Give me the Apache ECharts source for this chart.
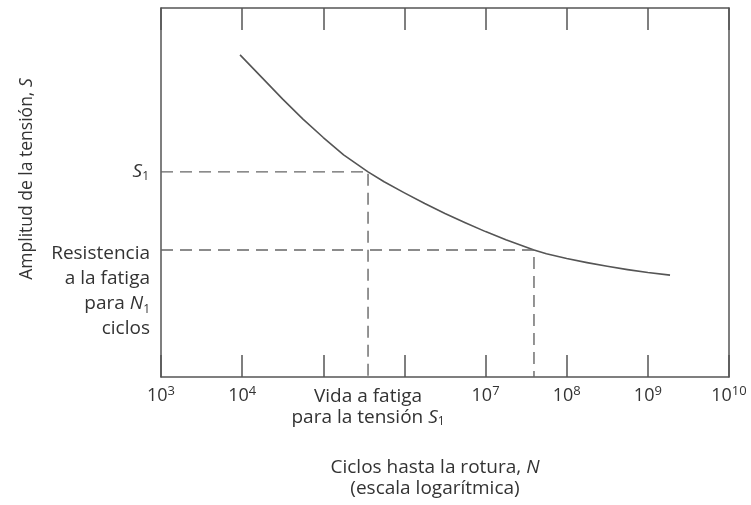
<!DOCTYPE html>
<html><head><meta charset="utf-8">
<script src="https://cdn.jsdelivr.net/npm/echarts@6/dist/echarts.min.js"></script>
<style>html,body{margin:0;padding:0;background:#fff}#c{width:751px;height:505px}</style>
</head><body><div id="c"></div>
<script>
// S-N curve (amplitude of stress vs cycles to failure, log scale)
const curveN = [9420, 17800, 31600, 56200, 1.0e5, 1.78e5, 3.56e5, 5.62e5, 1.0e6, 1.78e6, 3.16e6, 5.62e6,
  1.0e7, 1.78e7, 3.95e7, 5.62e7, 1.0e8, 1.78e8, 3.16e8, 5.62e8, 1.0e9, 1.875e9];
const curveS = [87.3, 81.0, 75.3, 69.9, 64.9, 60.2, 55.6, 52.9, 49.9, 47.0, 44.3, 41.8,
  39.4, 37.2, 34.4, 33.4, 32.1, 31.0, 30.0, 29.1, 28.3, 27.6];
const s1Level = 55.6;
const s1Life = 3.56e5;
const enduranceLevel = 34.4;
const enduranceLife = 3.95e7;
const xMin = 1e3;
const xMax = 1e10;
const xTickExponents = [3, 4, 7, 8, 9, 10];
const yTitle = ['Amplitud de la tensión, ', 'S'];
const xTitle = ['Ciclos hasta la rotura, ', 'N', '(escala logarítmica)'];
const s1Text = ['S', '1'];
const lifeText = ['Vida a fatiga', 'para la tensión ', 'S', '1'];
const enduranceText = ['Resistencia', 'a la fatiga', 'para ', 'N', '1', 'ciclos'];

const F = "'Open Sans', sans-serif";
const TXT = '#333';
const LINE = '#555';
const FS = 19;
const rich = {
  a: { fontSize: FS, color: TXT, fontFamily: F, lineHeight: 21 },
  i: { fontSize: FS, color: TXT, fontFamily: F, fontStyle: 'italic', lineHeight: 21 },
  sub: { fontSize: 12, color: TXT, fontFamily: F, verticalAlign: 'bottom', lineHeight: 12 },
  sup: { fontSize: 13, color: TXT, fontFamily: F, verticalAlign: 'top', lineHeight: 12 },
  b: { fontSize: 18, color: TXT, fontFamily: F, lineHeight: 21 }
};
const richL = {
  a: Object.assign({}, rich.a, { lineHeight: 25 }),
  i: Object.assign({}, rich.i, { lineHeight: 25 }),
  sub: Object.assign({}, rich.sub, { lineHeight: 16 })
};

const chart = echarts.init(document.getElementById('c'), null, { renderer: 'canvas' });
const axisBase = {
  type: 'log', logBase: 10, min: xMin, max: xMax, splitNumber: 7, interval: 1,
  axisLine: { show: true, onZero: false, lineStyle: { color: LINE, width: 1.5 } },
  axisTick: { show: true, inside: true, length: 22, lineStyle: { color: LINE, width: 1.5 } },
  splitLine: { show: false },
  minorTick: { show: false }
};
chart.setOption({
  animation: false,
  backgroundColor: '#fff',
  grid: { left: 161, right: 22, top: 8, bottom: 128 },
  xAxis: [
    Object.assign({}, axisBase, {
      position: 'bottom',
      axisLabel: {
        show: true, margin: 8, rich: rich,
        formatter: function (v) {
          const e = Math.round(Math.log10(v));
          return xTickExponents.indexOf(e) >= 0 ? '{b|10}{sup|' + e + '}' : '';
        }
      },
      name: '{a|' + xTitle[0] + '}{i|' + xTitle[1] + '}\n{a|' + xTitle[2] + '}',
      nameLocation: 'middle', nameGap: 80,
      nameTextStyle: { rich: rich, padding: [0, 20, 0, 0] }
    }),
    Object.assign({}, axisBase, { position: 'top', axisLabel: { show: false } })
  ],
  yAxis: [
    {
      type: 'value', min: 0, max: 100, position: 'left',
      axisLine: { show: true, lineStyle: { color: LINE, width: 1.5 } },
      axisTick: { show: false }, axisLabel: { show: false }, splitLine: { show: false },
      name: '{a|' + yTitle[0] + '}{i|' + yTitle[1] + '}',
      nameLocation: 'middle', nameRotate: 90, nameGap: 123,
      nameTextStyle: { rich: { a: Object.assign({}, rich.a, { fontSize: 17.5 }), i: Object.assign({}, rich.i, { fontSize: 17.5 }) }, padding: [0, 0, 0, 27] }
    },
    {
      type: 'value', min: 0, max: 100, position: 'right',
      axisLine: { show: true, lineStyle: { color: LINE, width: 1.5 } },
      axisTick: { show: false }, axisLabel: { show: false }, splitLine: { show: false }
    }
  ],
  series: [
    {
      type: 'line', smooth: false, showSymbol: false, silent: true,
      lineStyle: { color: LINE, width: 1.6, join: 'round' },
      data: curveN.map(function (n, i) { return [n, curveS[i]]; }),
      z: 3
    },
    {
      type: 'line', symbol: 'circle', symbolSize: 0, showSymbol: true, silent: true,
      lineStyle: { color: '#666', width: 1.4, type: [12, 7] },
      itemStyle: { color: 'transparent' },
      data: [
        { value: [xMin, s1Level], label: { show: true, position: 'left', distance: 12, rich: rich,
          formatter: '{i|' + s1Text[0] + '}{sub|' + s1Text[1] + '}' } },
        { value: [s1Life, s1Level] },
        { value: [s1Life, 0], label: { show: true, position: 'bottom', distance: 9, rich: rich, align: 'center',
          formatter: '{a|' + lifeText[0] + '}\n{a|' + lifeText[1] + '}{i|' + lifeText[2] + '}{sub|' + lifeText[3] + '}' } }
      ]
    },
    {
      type: 'line', symbol: 'circle', symbolSize: 0, showSymbol: true, silent: true,
      lineStyle: { color: '#666', width: 1.4, type: [12, 7] },
      itemStyle: { color: 'transparent' },
      data: [
        { value: [xMin, enduranceLevel], label: { show: true, position: 'left', distance: 11, rich: richL, align: 'right',
          offset: [0, 41],
          formatter: '{a|' + enduranceText[0] + '}\n{a|' + enduranceText[1] + '}\n{a|' + enduranceText[2] + '}{i|' + enduranceText[3] + '}{sub|' + enduranceText[4] + '}\n{a|' + enduranceText[5] + '}' } },
        { value: [enduranceLife, enduranceLevel] },
        { value: [enduranceLife, 0] }
      ]
    }
  ]
});
</script></body></html>
